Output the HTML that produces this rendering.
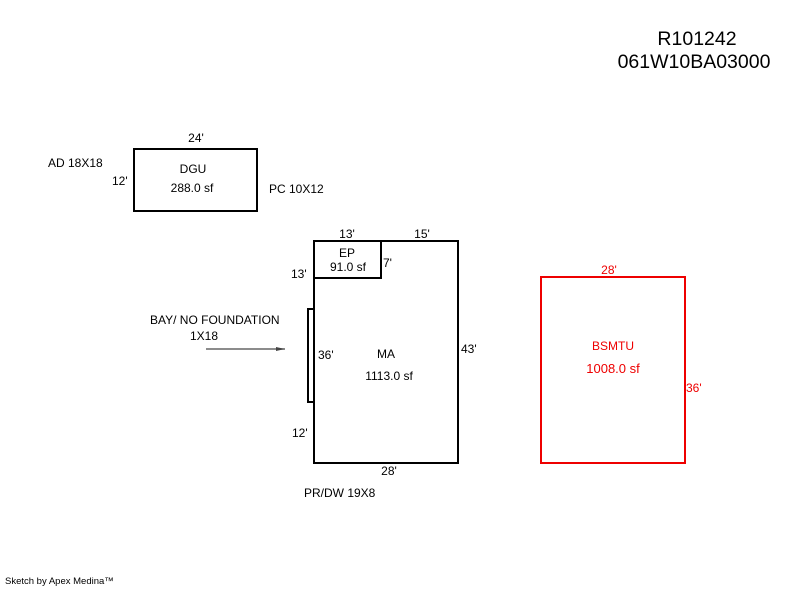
<!DOCTYPE html>
<html><head><style>
body{margin:0;background:#fff;}
svg text{font-family:"Liberation Sans",sans-serif;font-size:12px;fill:#000;}
</style></head><body>
<svg width="800" height="587" xmlns="http://www.w3.org/2000/svg">
<text x="697" y="45" style="font-size:19.5px" text-anchor="middle">R101242</text>
<text x="694" y="68" style="font-size:19.5px" text-anchor="middle">061W10BA03000</text>

<rect x="134" y="149" width="123" height="62" fill="none" stroke="#000" stroke-width="2"/>
<text x="196" y="142" text-anchor="middle">24'</text>
<text x="193" y="173" text-anchor="middle">DGU</text>
<text x="192" y="192" text-anchor="middle">288.0 sf</text>
<text x="112" y="185">12'</text>
<text x="48" y="167">AD 18X18</text>
<text x="269" y="193">PC 10X12</text>

<rect x="314" y="241" width="144" height="222" fill="none" stroke="#000" stroke-width="2"/>
<rect x="314" y="241" width="67" height="37" fill="none" stroke="#000" stroke-width="2"/>
<rect x="308" y="309" width="6" height="93" fill="none" stroke="#000" stroke-width="2"/>
<text x="347" y="238" text-anchor="middle">13'</text>
<text x="422" y="238" text-anchor="middle">15'</text>
<text x="347" y="257" text-anchor="middle">EP</text>
<text x="348" y="271" text-anchor="middle">91.0 sf</text>
<text x="383" y="267">7'</text>
<text x="291" y="278">13'</text>
<text x="318" y="359">36'</text>
<text x="386" y="358" text-anchor="middle">MA</text>
<text x="389" y="380" text-anchor="middle">1113.0 sf</text>
<text x="461" y="353">43'</text>
<text x="292" y="437">12'</text>
<text x="389" y="475" text-anchor="middle">28'</text>
<text x="304" y="497">PR/DW 19X8</text>
<text x="150" y="324">BAY/ NO FOUNDATION</text>
<text x="190" y="340">1X18</text>
<line x1="206" y1="349" x2="285" y2="349" stroke="#666" stroke-width="1.5"/>
<polygon points="285,349 276,347 276,351" fill="#444"/>

<rect x="541" y="277" width="144" height="186" fill="none" stroke="#e00" stroke-width="2"/>
<text x="609" y="274" text-anchor="middle" style="fill:#e00">28'</text>
<text x="613" y="350" text-anchor="middle" style="fill:#e00">BSMTU</text>
<text x="613" y="373" text-anchor="middle" style="fill:#e00;font-size:13px">1008.0 sf</text>
<text x="686" y="392" style="fill:#e00">36'</text>

<text x="5" y="584" style="font-size:9.5px">Sketch by Apex Medina™</text>
</svg>
</body></html>
